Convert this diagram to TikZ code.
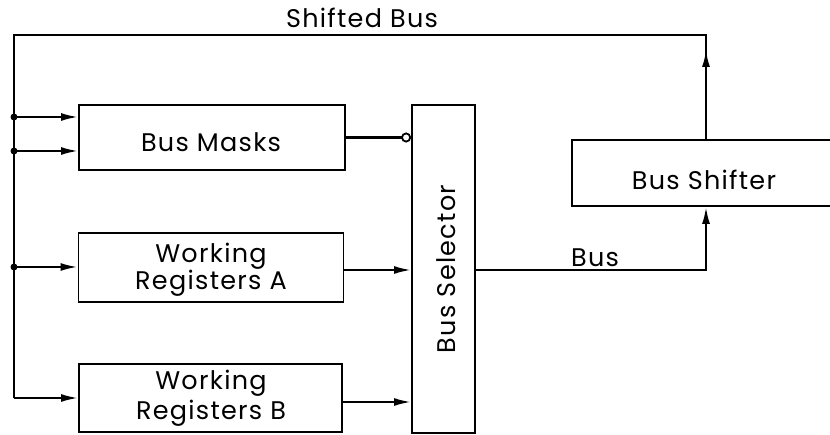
\documentclass[tikz,border=0pt]{standalone}
\usepackage{fontspec}
\setmainfont{Poppins}[LetterSpace=5]
\usetikzlibrary{arrows.meta}
\begin{document}
\begin{tikzpicture}[x=1pt,y=-1pt,
  font=\fontsize{25.5}{27}\selectfont,
  wire/.style={line width=2.2pt},
  box/.style={draw,line width=1.8pt,inner sep=0pt},
  lab/.style={anchor=base,inner sep=0pt},
  arr/.style={line width=2.2pt,-{Latex[length=17pt,width=8pt]}},
  dot/.style={circle,fill,inner sep=0pt,minimum size=7pt}]
\useasboundingbox (0,0) rectangle (830,435);
% boxes
\node[box,minimum width=266pt,minimum height=65pt] (masks) at (212,137.5) {};
\node[box,minimum width=265pt,minimum height=69pt] (wra) at (211,267.5) {};
\node[box,minimum width=263pt,minimum height=68pt] (wrb) at (210.5,398) {};
\node[box,minimum width=63pt,minimum height=328pt] (sel) at (443.5,269) {};
\node[box,minimum width=263pt,minimum height=66pt] (shf) at (703.5,173) {};
% box texts
\node[lab] (maskst) at (211,151.5) {Bus Masks};
\node[lab] (wrat1) at (211,263) {Working};
\node[lab] (wrat2) at (211,290) {Registers A};
\node[lab] (wrbt1) at (211,390) {Working};
\node[lab] (wrbt2) at (211,420) {Registers B};
\node[rotate=90,inner sep=0pt] (selt) at (446,269) {Bus Selector};
\node[lab] (shft) at (704,190) {Bus Shifter};
% coordinates
\coordinate (tl) at (14,35);
\coordinate (tr) at (706,35);
\coordinate (d1) at (14,117);
\coordinate (d2) at (14,151);
\coordinate (d3) at (14,267);
\coordinate (bl) at (14,398);
\coordinate (busc) at (706,270);
\coordinate (midarr) at (706,50);
% shifted bus loop
\draw[wire,line join=miter] (shf.north -| midarr) -- (tr) -- (tl) -- (bl);
\draw[arr] (shf.north -| midarr) -- (midarr);
\draw[arr] (bl) -- (wrb.west);
\draw[arr] (d1) -- (masks.west |- d1);
\draw[arr] (d2) -- (masks.west |- d2);
\draw[arr] (d3) -- (wra.west |- d3);
\node[dot] (n1) at (d1) {};
\node[dot] (n2) at (d2) {};
\node[dot] (n3) at (d3) {};
\node[lab] (shlab) at (362,28) {Shifted Bus};
% into selector
\draw[wire,-{Circle[open,length=10pt,width=10pt,line width=1.8pt]}] (masks.east) -- (sel.west |- masks.east);
\draw[arr] (wra.east |- 0,270) -- (sel.west |- 0,270);
\draw[arr] (wrb.east |- 0,402) -- (sel.west |- 0,402);
% bus
\draw[arr,line join=miter] (sel.east |- busc) -- (busc) -- (shf.south -| busc);
\node[lab] (buslab) at (595,267) {Bus};
\end{tikzpicture}
\end{document}
